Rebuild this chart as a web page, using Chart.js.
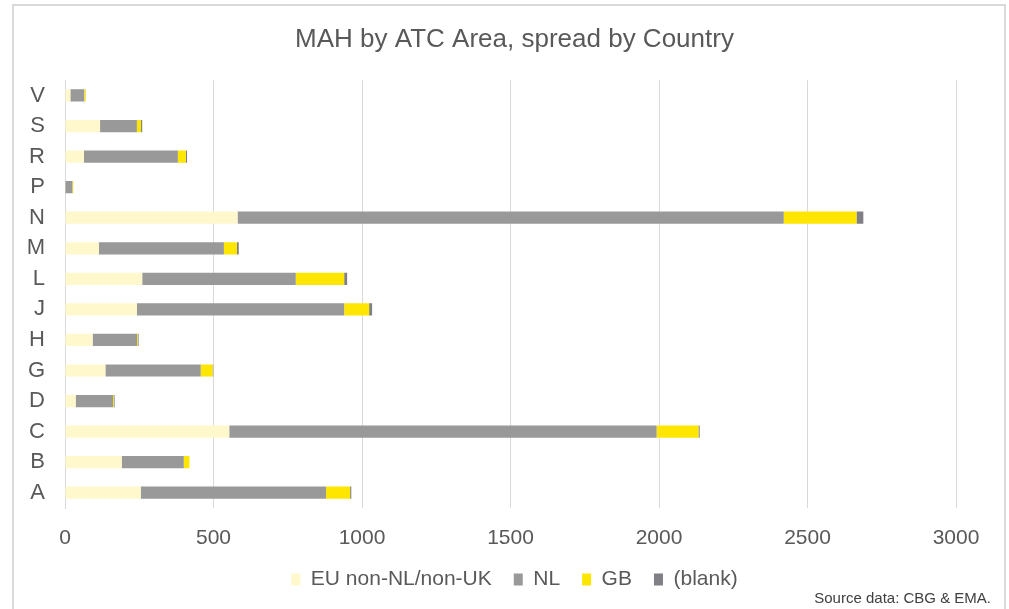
<!DOCTYPE html>
<html>
<head>
<meta charset="utf-8">
<script src="https://cdn.jsdelivr.net/npm/chart.js@4/dist/chart.umd.min.js"></script>
<style>
  html, body { margin: 0; padding: 0; background: #ffffff; }
  #wrap { position: relative; width: 1009px; height: 609px; overflow: hidden; }
  #frame { position: absolute; left: 12px; top: 4px; width: 994px; height: 700px;
           border: 2px solid #d9d9d9; box-sizing: border-box; pointer-events: none; }
  #myChart { position: absolute; left: 0; top: 0; }
  #source { position: absolute; right: 18px; top: 589px; font-family: "Liberation Sans", Arial, sans-serif;
            font-size: 15px; color: #404040; }
</style>
</head>
<body>
<div id="wrap">
  <div id="frame"></div>
  <canvas id="myChart" width="1009" height="609"></canvas>
  <div id="source">Source data: CBG &amp; EMA.</div>
</div>
<script>
const fontFamily = '"Liberation Sans", Arial, sans-serif';

// ATC areas, top to bottom as in the picture
const areas = ["V", "S", "R", "P", "N", "M", "L", "J", "H", "G", "D", "C", "B", "A"];

const euNonNlNonUk = [18, 118, 64, 1, 581, 114, 260, 242, 93, 136, 36, 553, 191, 255];
const nl = [46, 124, 316, 24, 1839, 421, 517, 698, 150, 321, 126, 1439, 209, 624];
const gb = [4, 14, 27, 3, 245, 44, 163, 84, 3, 40, 3, 141, 19, 81];
const blank = [1, 4, 4, 0, 23, 6, 10, 10, 2, 2, 2, 4, 0, 4];

const xTicks = [0, 500, 1000, 1500, 2000, 2500, 3000];

const ctx = document.getElementById("myChart").getContext("2d");
const chart = new Chart(ctx, {
    type: "bar",
    data: {
        labels: areas,
        datasets: [
            { label: "EU non-NL/non-UK", data: euNonNlNonUk, backgroundColor: "#fff8cc" },
            { label: "NL", data: nl, backgroundColor: "#999999" },
            { label: "GB", data: gb, backgroundColor: "#ffe600" },
            { label: "(blank)", data: blank, backgroundColor: "#7f7f85" }
        ]
    },
    options: {
        indexAxis: "y",
        responsive: false,
        animation: false,
        datasets: {
            bar: { categoryPercentage: 1, barPercentage: 0.4 }
        },
        layout: {
            padding: { left: 20, right: 0, top: 0, bottom: 9 }
        },
        scales: {
            x: {
                stacked: true,
                min: 0,
                max: 3000,
                afterBuildTicks: (scale) => {
                    scale.ticks = xTicks.map(v => ({ value: v }));
                },
                afterFit: (scale) => { scale.height = 39; },
                ticks: {
                    color: "#595959",
                    font: { family: fontFamily, size: 21 },
                    padding: 18,
                    callback: (value) => String(value)
                },
                grid: { color: "#d9d9d9", drawTicks: false },
                border: { display: false }
            },
            y: {
                stacked: true,
                afterFit: (scale) => { scale.width = 45; },
                ticks: {
                    color: "#595959",
                    font: { family: fontFamily, size: 22 },
                    padding: 20
                },
                grid: { display: false, drawTicks: false },
                border: { display: true, color: "#d9d9d9", width: 1 }
            },
            // empty right-hand axis, only keeps space after the 3000 gridline
            y2: {
                axis: "y",
                type: "category",
                position: "right",
                afterFit: (scale) => { scale.width = 53; },
                ticks: { display: false },
                grid: { display: false, drawTicks: false },
                border: { display: false }
            }
        },
        plugins: {
            title: {
                display: true,
                text: "MAH by ATC Area, spread by Country",
                color: "#595959",
                font: { family: fontFamily, size: 26, weight: "normal" },
                padding: { top: 24, bottom: 25 }
            },
            legend: {
                display: true,
                position: "bottom",
                labels: {
                    color: "#595959",
                    font: { family: fontFamily, size: 21 },
                    boxWidth: 9,
                    boxHeight: 12,
                    padding: 22
                }
            },
            tooltip: { enabled: false }
        }
    }
});
</script>
</body>
</html>
